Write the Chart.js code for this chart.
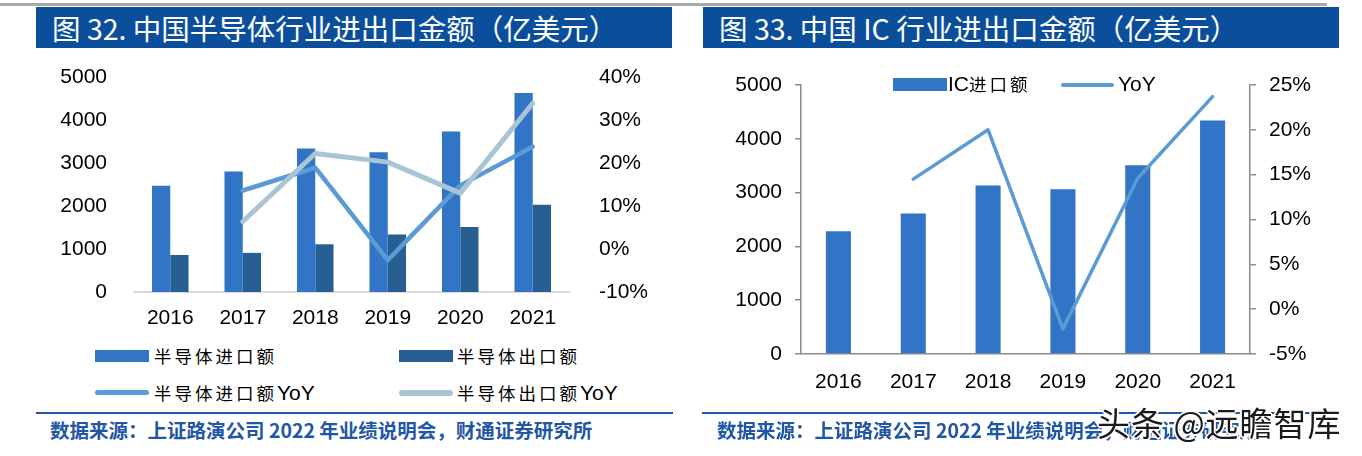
<!DOCTYPE html>
<html>
<head>
<meta charset="utf-8">
<script src="https://cdn.jsdelivr.net/npm/chart.js@4"></script>
<style>
    body { margin: 0; background: #fff; }
    #page { position: relative; width: 1362px; height: 456px; overflow: hidden; font-family: "Liberation Sans", Arial, sans-serif; }
    .topline { position: absolute; top: 3px; height: 3px; background: #a9a9a9; }
    .titlebar { position: absolute; top: 7px; height: 41px; background: #0b4f9c; color: #fff;
        font-family: "Noto Sans CJK SC", sans-serif; font-size: 28.5px; line-height: 41px; white-space: nowrap; }
    .titlebar span { position: absolute; left: 16px; top: 0; }
    canvas { position: absolute; }
    .lg-box { position: absolute; }
    .lg-line { position: absolute; border-radius: 3px; }
    .lg-text { position: absolute; font-family: "Noto Sans CJK SC", sans-serif; font-size: 17.5px; letter-spacing: 3px; color: #000; line-height: 24px; white-space: nowrap; }
    .lg-text b { font-family: "Liberation Sans", Arial, sans-serif; font-weight: normal; font-size: 21px; letter-spacing: 0; }
    .srcline { position: absolute; top: 412px; height: 2px; background: #1f56a5; }
    .src { position: absolute; top: 417px; font-family: "Noto Sans CJK SC", sans-serif; font-weight: bold; font-size: 19.5px; line-height: 26px; color: #1f56a5; white-space: nowrap; }
    .mark { position: absolute; left: 1097px; top: 402px; font-family: "Noto Sans CJK SC", sans-serif; font-size: 33px; letter-spacing: 1px; line-height: 40px; color: #1a1a1a; white-space: nowrap;
        text-shadow: -2px 0 #fff, 2px 0 #fff, 0 -2px #fff, 0 2px #fff, -1px -1px #fff, 1px 1px #fff, -1px 1px #fff, 1px -1px #fff; }
</style>
</head>
<body>
<div id="page">
    <div class="topline" style="left:0; width:1327px;"></div>

    <div class="titlebar" style="left:36px; width:636px;"><span>图 32. 中国半导体行业进出口金额（亿美元）</span></div>
    <div class="titlebar" style="left:703px; width:636px;"><span>图 33. 中国 IC 行业进出口金额（亿美元）</span></div>

    <canvas id="semiChart" width="680" height="280" style="left:0; top:60px; width:680px; height:280px;"></canvas>
    <canvas id="icChart" width="682" height="340" style="left:680px; top:60px; width:682px; height:340px;"></canvas>

    <!-- legend of left chart, 2 x 2 -->
    <div class="lg-box" id="lgImp" style="left:95px; top:350px; width:54px; height:12px;"></div>
    <div class="lg-text" style="left:154px; top:344px;">半导体进口额</div>
    <div class="lg-box" id="lgExp" style="left:399px; top:350px; width:54px; height:12px;"></div>
    <div class="lg-text" style="left:457px; top:344px;">半导体出口额</div>
    <div class="lg-line" id="lgImpYoy" style="left:95px; top:390px; width:54px; height:5px;"></div>
    <div class="lg-text" style="left:154px; top:381px;">半导体进口额<b>YoY</b></div>
    <div class="lg-line" id="lgExpYoy" style="left:399px; top:390px; width:54px; height:6px;"></div>
    <div class="lg-text" style="left:457px; top:381px;">半导体出口额<b>YoY</b></div>

    <!-- legend of right chart -->
    <div class="lg-box" id="lgIc" style="left:893px; top:78px; width:54px; height:13px;"></div>
    <div class="lg-text" style="left:948px; top:72px;"><b>IC</b>进口额</div>
    <div class="lg-line" id="lgIcYoy" style="left:1061px; top:83px; width:53px; height:4px;"></div>
    <div class="lg-text" style="left:1118px; top:72px;"><b>YoY</b></div>

    <div class="srcline" style="left:36px; width:637px;"></div>
    <div class="src" style="left:50px;">数据来源：上证路演公司 2022 年业绩说明会，财通证券研究所</div>
    <div class="srcline" style="left:702px; width:636px;"></div>
    <div class="src" style="left:717px;">数据来源：上证路演公司 2022 年业绩说明会，财通证券研究所</div>
    <div class="mark">头条 @远瞻智库</div>
</div>

<script>
// data
const years = ['2016', '2017', '2018', '2019', '2020', '2021'];

const semiImport = [2470, 2800, 3340, 3250, 3730, 4630];
const semiExport = [860, 910, 1110, 1340, 1510, 2030];
const semiImportYoY = [null, 13.6, 18.9, -2.6, 14.8, 23.8];
const semiExportYoY = [null, 6.4, 22.2, 20.2, 13.0, 33.9];

const icImport = [2280, 2610, 3130, 3060, 3510, 4340];
const icImportYoY = [null, 14.5, 20.0, -2.2, 14.6, 23.7];

const importBlue = '#3274c5';
const exportBlue = '#275f93';
const yoyBlue = '#5b9bd5';
const yoyGrey = '#a9c5d5';
const axisGrey = '#8c8c8c';

const tickFont = { family: '"Liberation Sans", Arial, sans-serif', size: 21 };

// fixed axis sizes so the plot area lands where the picture has it
function fixWidth(w) {
    return function(scale) {
        scale.width = w;
        scale.paddingTop = 0;
        scale.paddingBottom = 0;
    };
}
function fixHeight(h) {
    return function(scale) {
        scale.height = h;
        scale.paddingLeft = 0;
        scale.paddingRight = 0;
    };
}
function plain(v) { return String(v); }
function pct(v) { return v + '%'; }

function renderSemiChart() {
    const ctx = document.getElementById('semiChart').getContext('2d');

    new Chart(ctx, {
        type: 'bar',
        data: {
            labels: years,
            datasets: [
                { type: 'line', label: '半导体出口额YoY', data: semiExportYoY, yAxisID: 'y1', order: 0,
                  borderColor: yoyGrey, borderWidth: 5, pointRadius: 0, borderCapStyle: 'round', borderJoinStyle: 'round' },
                { type: 'line', label: '半导体进口额YoY', data: semiImportYoY, yAxisID: 'y1', order: 1,
                  borderColor: yoyBlue, borderWidth: 4.5, pointRadius: 0, borderCapStyle: 'round', borderJoinStyle: 'round' },
                { label: '半导体进口额', data: semiImport, backgroundColor: importBlue, yAxisID: 'y', order: 2,
                  categoryPercentage: 0.504, barPercentage: 1 },
                { label: '半导体出口额', data: semiExport, backgroundColor: exportBlue, yAxisID: 'y', order: 3,
                  categoryPercentage: 0.504, barPercentage: 1 }
            ]
        },
        options: {
            responsive: false,
            animation: false,
            devicePixelRatio: 1,
            layout: { padding: { top: 17, left: 0, right: 0, bottom: 0 } },
            plugins: { legend: { display: false }, tooltip: { enabled: false } },
            scales: {
                x: {
                    grid: { display: false },
                    border: { display: true, color: '#d9d9d9', width: 2 },
                    ticks: { font: tickFont, color: '#000', padding: 6, maxRotation: 0 },
                    afterFit: fixHeight(48)
                },
                y: {
                    position: 'left',
                    min: 0, max: 5000,
                    grid: { display: false },
                    border: { display: false },
                    ticks: { stepSize: 1000, font: tickFont, color: '#000', padding: 19, callback: plain },
                    afterFit: fixWidth(134)
                },
                y1: {
                    position: 'right',
                    min: -10, max: 40,
                    grid: { display: false },
                    border: { display: false },
                    ticks: { stepSize: 10, font: tickFont, color: '#000', padding: 22, callback: pct },
                    afterFit: fixWidth(111)
                }
            }
        }
    });
}

function renderIcChart() {
    const ctx = document.getElementById('icChart').getContext('2d');

    const yGrid = { display: true, drawOnChartArea: false, drawTicks: true, tickLength: 6, color: axisGrey, lineWidth: 1.5 };

    new Chart(ctx, {
        type: 'bar',
        data: {
            labels: years,
            datasets: [
                { type: 'line', label: 'YoY', data: icImportYoY, yAxisID: 'y1', order: 0,
                  borderColor: yoyBlue, borderWidth: 3.5, pointRadius: 0, borderCapStyle: 'round', borderJoinStyle: 'round' },
                { label: 'IC进口额', data: icImport, backgroundColor: importBlue, yAxisID: 'y', order: 1,
                  categoryPercentage: 0.335, barPercentage: 1 }
            ]
        },
        options: {
            responsive: false,
            animation: false,
            devicePixelRatio: 1,
            layout: { padding: { top: 25, left: 0, right: 0, bottom: 0 } },
            plugins: { legend: { display: false }, tooltip: { enabled: false } },
            scales: {
                x: {
                    grid: { display: false },
                    border: { display: true, color: axisGrey, width: 1.5 },
                    ticks: { font: tickFont, color: '#000', padding: 8, maxRotation: 0 },
                    afterFit: fixHeight(46)
                },
                y: {
                    position: 'left',
                    min: 0, max: 5000,
                    grid: yGrid,
                    border: { display: true, color: axisGrey, width: 1.5 },
                    ticks: { stepSize: 1000, font: tickFont, color: '#000', padding: 13, callback: plain },
                    afterFit: fixWidth(121)
                },
                y1: {
                    position: 'right',
                    min: -5, max: 25,
                    grid: yGrid,
                    border: { display: true, color: axisGrey, width: 1.5 },
                    ticks: { stepSize: 5, font: tickFont, color: '#000', padding: 13, callback: pct },
                    afterFit: fixWidth(112)
                }
            }
        }
    });
}

function paintLegends() {
    document.getElementById('lgImp').style.background = importBlue;
    document.getElementById('lgExp').style.background = exportBlue;
    document.getElementById('lgImpYoy').style.background = yoyBlue;
    document.getElementById('lgExpYoy').style.background = yoyGrey;
    document.getElementById('lgIc').style.background = importBlue;
    document.getElementById('lgIcYoy').style.background = yoyBlue;
}

window.onload = function() {
    paintLegends();
    renderSemiChart();
    renderIcChart();
};
</script>
</body>
</html>
